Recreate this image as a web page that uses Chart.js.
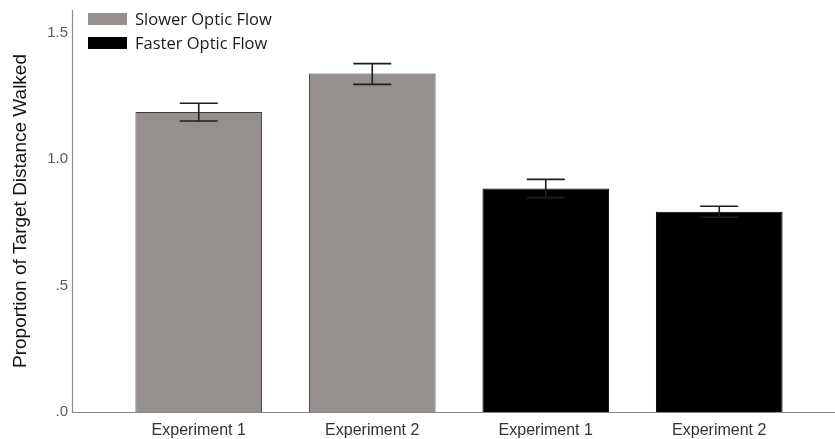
<!DOCTYPE html>
<html>
<head>
<meta charset="utf-8">
<script src="https://cdn.jsdelivr.net/npm/chart.js@4"></script>
<style>
  html, body { margin: 0; padding: 0; background: #fff; }
  #wrap { width: 835px; height: 439px; }
</style>
</head>
<body>
<div id="wrap"><canvas id="myChart" width="835" height="439"></canvas></div>
<script>
// values
const categories = ['Experiment 1', 'Experiment 2', 'Experiment 1', 'Experiment 2'];
const slower = [1.187, 1.339, null, null];
const faster = [null, null, 0.884, 0.792];
const errLow = [1.151, 1.296, 0.848, 0.770];
const errHigh = [1.221, 1.378, 0.920, 0.814];
const yTicks = [0, 0.5, 1.0, 1.5];
const yTickLabels = ['.0', '.5', '1.0', '1.5'];

// axis lines run past the category area like the SPSS output
const axisLines = {
  id: 'axisLines',
  afterDraw(chart) {
    const c = chart.ctx, a = chart.chartArea;
    c.save();
    c.strokeStyle = '#8a8a8a';
    c.lineWidth = 1.2;
    c.beginPath();
    c.moveTo(72.5, a.top);
    c.lineTo(72.5, a.bottom + 0.5);
    c.lineTo(835, a.bottom + 0.5);
    c.stroke();
    c.restore();
  }
};

const errorBars = {
  id: 'errorBars',
  afterDatasetsDraw(chart) {
    const c = chart.ctx, x = chart.scales.x, y = chart.scales.y;
    c.save();
    c.strokeStyle = '#1e1e1e';
    c.lineWidth = 1.6;
    for (let i = 0; i < categories.length; i++) {
      const px = x.getPixelForValue(i);
      const top = y.getPixelForValue(errHigh[i]);
      const bot = y.getPixelForValue(errLow[i]);
      c.beginPath();
      c.moveTo(px, top); c.lineTo(px, bot);
      c.moveTo(px - 19, top); c.lineTo(px + 19, top);
      c.moveTo(px - 19, bot); c.lineTo(px + 19, bot);
      c.stroke();
    }
    c.restore();
  }
};

const boxLegend = {
  id: 'boxLegend',
  afterDraw(chart) {
    const c = chart.ctx;
    c.save();
    c.font = '16.5px "Open Sans"';
    c.textBaseline = 'middle';
    chart.data.datasets.forEach((ds, i) => {
      const yy = 13 + i * 24;
      c.fillStyle = ds.backgroundColor;
      c.fillRect(88, yy, 39, 12);
      c.fillStyle = '#1a1a1a';
      c.fillText(ds.label, 135, yy + 7);
    });
    c.restore();
  }
};

const ctx = document.getElementById('myChart').getContext('2d');
const myChart = new Chart(ctx, {
  type: 'bar',
  data: {
    labels: categories,
    datasets: [{
      label: 'Slower Optic Flow',
      data: slower,
      backgroundColor: '#958f8e',
      borderColor: '#3c3c3c',
      borderWidth: 1
    }, {
      label: 'Faster Optic Flow',
      data: faster,
      backgroundColor: '#000000',
      borderColor: '#000000',
      borderWidth: 1
    }]
  },
  options: {
    responsive: false,
    animation: false,
    layout: { padding: { left: 0, right: 29, top: 10, bottom: 0 } },
    plugins: { legend: { display: false }, tooltip: { enabled: false } },
    datasets: { bar: { barPercentage: 0.73, categoryPercentage: 1 } },
    scales: {
      x: {
        stacked: true,
        grid: { display: false, drawTicks: false },
        border: { display: false },
        ticks: { padding: 9, color: '#333', font: { family: 'Liberation Sans', size: 16 } },
        afterFit(s) { s.height = 27; }
      },
      y: {
        min: 0,
        max: 1.59,
        grid: { display: false, drawTicks: false },
        border: { display: false },
        afterBuildTicks(s) { s.ticks = yTicks.map(v => ({ value: v })); },
        ticks: {
          padding: 44,
          color: '#5a5a5a',
          font: { family: 'Liberation Sans', size: 15 },
          callback: (v) => yTickLabels[yTicks.indexOf(v)]
        },
        title: {
          display: true,
          text: 'Proportion of Target Distance Walked',
          color: '#111',
          font: { family: 'Liberation Sans', size: 19 },
          padding: { top: 9, bottom: 0 }
        },
        afterFit(s) {
          s.width = 112;
          s.paddingTop = 0;
          s.paddingBottom = 0;
        }
      }
    }
  },
  plugins: [axisLines, errorBars, boxLegend]
});
</script>
</body>
</html>
